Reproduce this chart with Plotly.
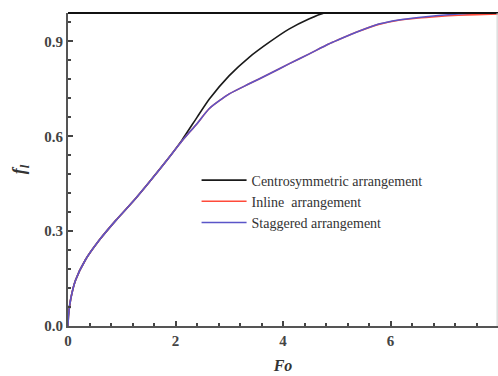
import plotly.graph_objects as go

# Data
fo_common = [0.0, 0.01, 0.05, 0.14, 0.32, 0.58, 0.89, 1.20, 1.51, 1.82, 2.12, 2.4, 2.63, 3.0,
             3.37, 3.74, 4.11, 4.48, 4.85, 5.04, 5.41, 5.78, 6.15, 6.52, 6.89, 7.26, 7.6, 8.0]
f_staggered = [0.0, 0.035, 0.085, 0.145, 0.208, 0.271, 0.334, 0.392, 0.455, 0.52, 0.585, 0.64, 0.688, 0.734,
               0.766, 0.797, 0.829, 0.860, 0.892, 0.906, 0.932, 0.955, 0.968, 0.976, 0.982, 0.987, 0.990, 0.992]
f_inline = [0.0, 0.035, 0.085, 0.145, 0.208, 0.271, 0.334, 0.392, 0.455, 0.52, 0.585, 0.64, 0.688, 0.734,
            0.766, 0.797, 0.829, 0.860, 0.892, 0.906, 0.932, 0.954, 0.967, 0.974, 0.979, 0.983, 0.985, 0.987]

fo_centro = [0.0, 0.01, 0.05, 0.14, 0.32, 0.58, 0.89, 1.20, 1.51, 1.82, 2.12, 2.4, 2.63, 3.0,
             3.37, 3.74, 4.11, 4.48, 4.79, 5.0, 6.0, 7.0, 8.0]
f_centro = [0.0, 0.035, 0.085, 0.145, 0.208, 0.271, 0.334, 0.392, 0.455, 0.52, 0.588, 0.66, 0.718, 0.792,
            0.85, 0.897, 0.939, 0.971, 0.992, 1.0, 1.0, 1.0, 1.0]

names = ["Centrosymmetric arrangement", "Inline  arrangement", "Staggered arrangement"]
colors = ["#1a1a1a", "#ff4a3a", "#5a55c8"]

fig = go.Figure()
fig.add_trace(go.Scatter(x=fo_centro, y=f_centro, mode="lines", name=names[0],
                         line=dict(color=colors[0], width=1.6, shape="spline", smoothing=0.6)))
fig.add_trace(go.Scatter(x=fo_common, y=f_inline, mode="lines", name=names[1],
                         line=dict(color=colors[1], width=1.6, shape="spline", smoothing=0.6)))
fig.add_trace(go.Scatter(x=fo_common, y=f_staggered, mode="lines", name=names[2],
                         line=dict(color=colors[2], width=1.6, shape="spline", smoothing=0.6)))

tickfont = dict(family="Liberation Serif", size=15, color="#444444", weight="bold")

fig.update_layout(
    width=498, height=376,
    margin=dict(l=68, r=0, t=13, b=50),
    paper_bgcolor="white", plot_bgcolor="white",
    showlegend=True,
    legend=dict(x=0.299, y=0.516, xanchor="left", yanchor="top",
                font=dict(family="Liberation Serif", size=14, color="#333333"),
                bgcolor="rgba(0,0,0,0)", itemwidth=45, tracegroupgap=0),
    xaxis=dict(range=[0, 8], dtick=2, tickformat="d", ticks="inside", ticklen=5, tickwidth=1.5,
               tickcolor="#444", showgrid=False, zeroline=False, automargin=False,
               showline=True, linecolor="#555", linewidth=2, mirror=False,
               tickfont=tickfont,
               minor=dict(dtick=0.4, ticks="inside", ticklen=3, tickcolor="#444", tickwidth=1.5),
               title=dict(text="<b><i>Fo</i></b>",
                          font=dict(family="Liberation Serif", size=16, color="#333", weight="bold"),
                          standoff=12)),
    yaxis=dict(range=[0, 0.99], tickvals=[0, 0.3, 0.6, 0.9], ticktext=["0.0", "0.3", "0.6", "0.9"],
               ticks="inside", ticklen=5, tickwidth=1.5, tickcolor="#444", automargin=False,
               showgrid=False, zeroline=False, showline=True, linecolor="#555", linewidth=2,
               tickfont=tickfont,
               minor=dict(tickvals=[0.06, 0.12, 0.18, 0.24, 0.36, 0.42, 0.48, 0.54, 0.66, 0.72, 0.78, 0.84, 0.96],
                          ticks="inside", ticklen=3, tickcolor="#444", tickwidth=1.5),
               title=dict(text="<b><i>f<sub>l</sub></i></b>",
                          font=dict(family="Liberation Serif", size=18, color="#333", weight="bold"),
                          standoff=14)),
)
# top frame (black) and faint right frame
fig.add_shape(type="line", xref="paper", yref="paper", x0=0, x1=1, y0=1, y1=1,
              line=dict(color="#111", width=2))
fig.add_shape(type="line", xref="paper", yref="paper", x0=0.998, x1=0.998, y0=0, y1=1,
              line=dict(color="#cccccc", width=1))

fig.write_html("out.html", config={"displayModeBar": False},
               post_script="document.body.style.margin='0';document.body.style.overflow='hidden';")
